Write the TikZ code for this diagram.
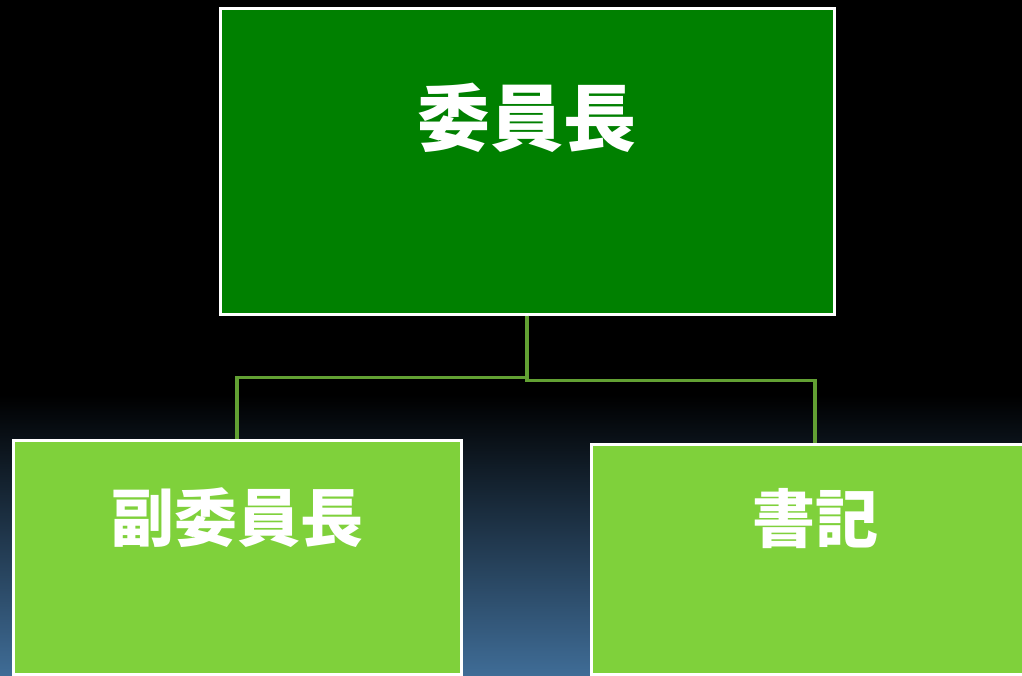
\documentclass[tikz,border=0pt]{standalone}
\usepackage{fontspec}
\usepackage{tikz}
\usetikzlibrary{positioning,calc}
\newfontfamily\cjk{Noto Sans CJK JP}
\definecolor{chairgreen}{HTML}{008000}
\definecolor{subgreen}{HTML}{7FD13B}
\definecolor{linkgreen}{HTML}{62A033}
\definecolor{skyblue}{HTML}{3F6C96}
\tikzstyle{chairbox} = [rectangle, draw=white, line width=3pt, fill=chairgreen,
    text=white, inner sep=0pt, minimum width=614pt, font=\cjk\bfseries\fontsize{73}{73}\selectfont]
\tikzstyle{subbox} = [rectangle, draw=white, line width=3pt, fill=subgreen,
    text=white, inner sep=0pt, minimum width=448pt, font=\cjk\bfseries\fontsize{63}{63}\selectfont]
\tikzstyle{link} = [linkgreen, line width=3.5pt]
\begin{document}
\begin{tikzpicture}[x=1pt,y=-1pt]
\useasboundingbox (0,0) rectangle (1022,675);
\clip (0,0) rectangle (1022,675);
% background
\fill[black] (0,0) rectangle (1022,675);
\shade[top color=black, bottom color=skyblue] (0,395) rectangle (1022,675);
% boxes
\node[chairbox, text height=137pt, text depth=169pt] (chair) at (527,161) {委員長};
\node[subbox, text height=101pt, text depth=133pt] (vice) at (237,557) {副委員長};
\node[subbox, text height=98pt, text depth=132pt] (clerk) at (815,559) {書記};
% connectors
\draw[link] (chair.south) -- ++(0,62) -| (vice.north);
\draw[link] (chair.south) -- ++(0,65) -| (clerk.north);
\end{tikzpicture}
\end{document}
